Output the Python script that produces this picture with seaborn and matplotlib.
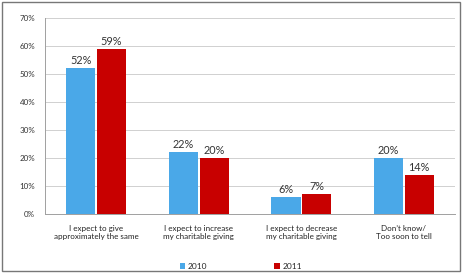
import matplotlib
matplotlib.use("Agg")
import matplotlib.pyplot as plt
import seaborn as sns
import pandas as pd
from matplotlib.patches import Rectangle

categories = ["I expect to give\napproximately the same",
              "I expect to increase\nmy charitable giving",
              "I expect to decrease\nmy charitable giving",
              "Don\u2019t know/\nToo soon to tell"]
years = ["2010", "2011"]
values_2010 = [52, 22, 6, 20]
values_2011 = [59, 20, 7, 14]
yticks = [0, 10, 20, 30, 40, 50, 60, 70]

df = pd.DataFrame({
    "category": categories * 2,
    "year": [years[0]] * 4 + [years[1]] * 4,
    "value": values_2010 + values_2011,
})

sns.set_theme(style="white")
plt.rcParams["font.family"] = ["Lato", "DejaVu Sans"]

fig = plt.figure(figsize=(4.63, 2.73), dpi=100)
ax = fig.add_axes([0.097, 0.216, 0.886, 0.718])
palette = {"2010": "#4aa8e8", "2011": "#c80000"}
sns.barplot(data=df, x="category", y="value", hue="year", palette=palette,
            width=0.6, gap=0.05, ax=ax, edgecolor="none", saturation=1, legend=True)

for cont in ax.containers:
    ax.bar_label(cont, labels=[f"{v:.0f}%" for v in cont.datavalues],
                 padding=1.5, fontsize=7.8, color="#333333")

ax.set_ylim(0, 70)
ax.set_yticks(yticks)
ax.set_yticklabels([f"{t}%" for t in yticks], fontsize=5.8, color="#333333")
ax.set_xticks(range(4))
ax.set_xticklabels(categories, fontsize=5.8, color="#222222")
ax.set_xlabel("")
ax.set_ylabel("")
ax.set_xlim(-0.5, 3.5)
ax.yaxis.grid(True, color="#d0d0d0", linewidth=0.7)
ax.set_axisbelow(True)
for s in ["top", "right"]:
    ax.spines[s].set_visible(False)
ax.spines["left"].set_color("#a0a0a0")
ax.spines["bottom"].set_color("#a0a0a0")
ax.spines["left"].set_linewidth(0.7)
ax.spines["bottom"].set_linewidth(0.7)
ax.tick_params(axis="x", length=0, pad=8)
ax.tick_params(axis="y", length=3, color="#a0a0a0", width=0.7, pad=4)
# category boundary ticks
ax.set_xticks([0.5, 1.5, 2.5, 3.5], minor=True)
ax.tick_params(axis="x", which="minor", length=3, color="#a0a0a0", width=0.7)

handles, labels = ax.get_legend_handles_labels()
ax.legend_.remove()
fig.legend(handles, labels, loc="lower center", bbox_to_anchor=(0.52, -0.015), ncol=2,
           frameon=False, fontsize=6, handlelength=0.7, handleheight=0.7,
           columnspacing=8.0, handletextpad=0.3)

fig.patches.append(Rectangle((0.004, 0.006), 0.99, 0.985, transform=fig.transFigure,
                             fill=False, edgecolor="#777777", linewidth=1.0))

fig.savefig("out.png", dpi=100)
